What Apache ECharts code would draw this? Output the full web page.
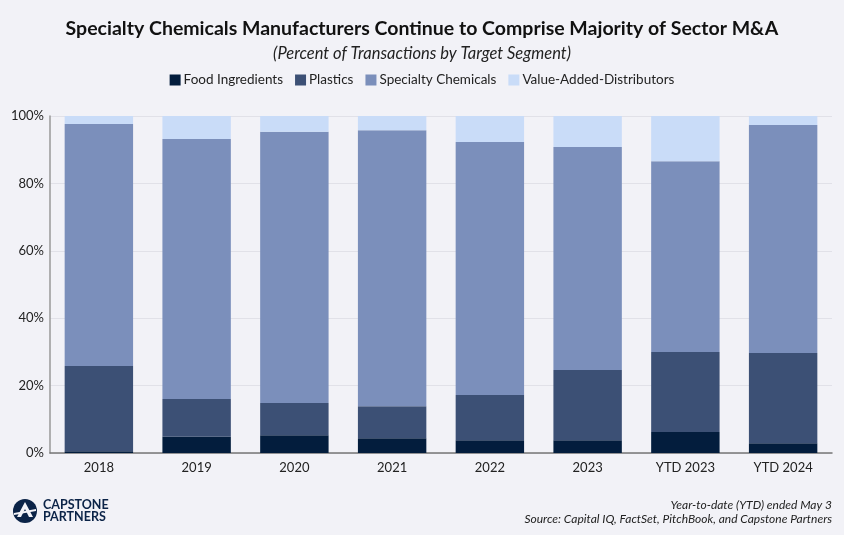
<!DOCTYPE html>
<html>
<head>
<meta charset="utf-8">
<script src="https://cdn.jsdelivr.net/npm/echarts@6/dist/echarts.min.js"></script>
<style>
  html, body { margin: 0; padding: 0; background: #f2f2f7; }
  #chart { width: 844px; height: 535px; }
</style>
</head>
<body>
<div id="chart"></div>
<script>
    // 分类与各细分领域占比（%）
    let categories = ['2018', '2019', '2020', '2021', '2022', '2023', 'YTD 2023', 'YTD 2024'];

    let foodIngredients = [0.5, 4.8, 5.3, 4.4, 3.8, 3.8, 6.2, 2.9];
    let plastics = [25.3, 11.2, 9.5, 9.5, 13.4, 20.8, 23.8, 26.8];
    let specialtyChemicals = [71.8, 77.2, 80.5, 81.9, 75.1, 66.2, 56.6, 67.6];
    let valueAddedDistributors = [2.4, 6.8, 4.7, 4.2, 7.7, 9.2, 13.4, 2.7];

    let yTicks = [0, 20, 40, 60, 80, 100];

    let fontMain = 'Lato, "Noto Sans", sans-serif';

    function makeSeries(name, data, color) {
        return {
            name: name,
            type: 'bar',
            stack: 'total',
            barWidth: '70%',
            itemStyle: { color: color },
            emphasis: { disabled: true },
            data: data
        };
    }

    let myChart = echarts.init(document.getElementById('chart'));

    let option = {
        backgroundColor: '#f2f2f7',
        animation: false,
        title: [
            {
                text: 'Specialty Chemicals Manufacturers Continue to Comprise Majority of Sector M&A',
                left: 'center',
                top: 14,
                textStyle: { fontFamily: fontMain, fontSize: 19.5, fontWeight: 'bold', color: '#111' }
            },
            {
                text: '(Percent of Transactions by Target Segment)',
                left: 'center',
                top: 40,
                textStyle: { fontFamily: fontMain, fontSize: 16.5, fontStyle: 'italic', fontWeight: 'normal', color: '#222' }
            }
        ],
        legend: {
            top: 68,
            left: 'center',
            itemWidth: 11,
            itemHeight: 11,
            itemGap: 12,
            icon: 'rect',
            textStyle: { fontFamily: fontMain, fontSize: 13.5, color: '#222', padding: [0, 0, 0, -2] },
            data: ['Food Ingredients', 'Plastics', 'Specialty Chemicals', 'Value-Added-Distributors']
        },
        grid: {
            left: 50,
            right: 12,
            top: 116,
            bottom: 82
        },
        xAxis: {
            type: 'category',
            data: categories,
            axisLine: { lineStyle: { color: '#777', width: 1.5 } },
            axisTick: { show: false },
            axisLabel: { fontFamily: fontMain, fontSize: 13, color: '#222', margin: 8 }
        },
        yAxis: {
            type: 'value',
            min: yTicks[0],
            max: yTicks[yTicks.length - 1],
            interval: 20,
            axisLine: { show: true, lineStyle: { color: '#999', width: 1.5 } },
            axisTick: { show: false },
            splitLine: { lineStyle: { color: '#e1e1e8' } },
            axisLabel: {
                fontFamily: fontMain, fontSize: 13, color: '#222', margin: 6,
                formatter: '{value}%'
            }
        },
        series: [
            makeSeries('Food Ingredients', foodIngredients, '#031d3d'),
            makeSeries('Plastics', plastics, '#3c5075'),
            makeSeries('Specialty Chemicals', specialtyChemicals, '#7b8fbb'),
            makeSeries('Value-Added-Distributors', valueAddedDistributors, '#c9dcf8')
        ],
        graphic: [
            // logo
            {
                type: 'circle',
                shape: { cx: 25, cy: 511, r: 12 },
                style: { fill: '#0b2347' }
            },
            {
                type: 'polygon',
                shape: { points: [[25, 502], [17, 517], [21, 517], [25, 509], [29, 517], [33, 517]] },
                style: { fill: '#f2f2f7' }
            },
            {
                type: 'polygon',
                shape: { points: [[14, 513], [36, 509], [36, 511], [14, 515]] },
                style: { fill: '#f2f2f7' }
            },
            {
                type: 'text',
                left: 43,
                top: 498,
                style: { text: 'CAPSTONE', fontFamily: fontMain, fontSize: 12.5, fontWeight: 'bold', fill: '#0b2347' }
            },
            {
                type: 'text',
                left: 43,
                top: 510,
                style: { text: 'PARTNERS', fontFamily: fontMain, fontSize: 12.5, fontWeight: 'bold', fill: '#0b2347' }
            },
            // footnotes
            {
                type: 'text',
                right: 12,
                top: 499,
                style: { text: 'Year-to-date (YTD) ended May 3', fontFamily: fontMain, fontSize: 12, fontStyle: 'italic', fill: '#222', align: 'right' }
            },
            {
                type: 'text',
                right: 12,
                top: 513,
                style: { text: 'Source: Capital IQ, FactSet, PitchBook, and Capstone Partners', fontFamily: fontMain, fontSize: 12, fontStyle: 'italic', fill: '#222', align: 'right' }
            }
        ]
    };

    myChart.setOption(option);
</script>
</body>
</html>
